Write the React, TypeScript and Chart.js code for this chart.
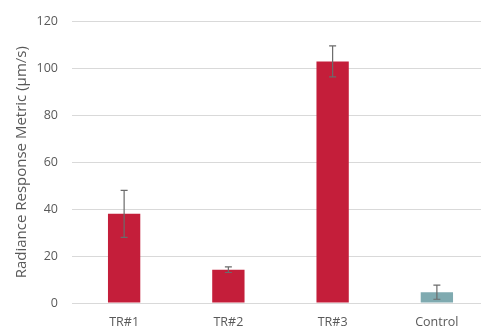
import React, { useEffect, useRef } from "react";
import { Chart, registerables } from "chart.js";

Chart.register(...registerables);

const categories = ["TR#1", "TR#2", "TR#3", "Control"];
const values = [38, 14.2, 103, 4.6];
const errors = [10, 1.2, 6.6, 3];
const barColors = ["#C41E3A", "#C41E3A", "#C41E3A", "#7FAAB0"];
const yTitle = "Radiance Response Metric (\u00B5m/s)";

const errorBarPlugin = {
  id: "errorBars",
  afterDatasetsDraw(chart: any) {
    const { ctx } = chart;
    const meta = chart.getDatasetMeta(0);
    const y = chart.scales.y;
    ctx.save();
    ctx.strokeStyle = "#6b6b6b";
    ctx.lineWidth = 1.2;
    meta.data.forEach((bar: any, i: number) => {
      const x = bar.x;
      const top = y.getPixelForValue(values[i] + errors[i]);
      const bot = y.getPixelForValue(values[i] - errors[i]);
      ctx.beginPath();
      ctx.moveTo(x, top);
      ctx.lineTo(x, bot);
      ctx.moveTo(x - 3.5, top);
      ctx.lineTo(x + 3.5, top);
      ctx.moveTo(x - 3.5, bot);
      ctx.lineTo(x + 3.5, bot);
      ctx.stroke();
    });
    ctx.restore();
  },
};

export default function App() {
  const ref = useRef<HTMLCanvasElement>(null);
  useEffect(() => {
    if (!ref.current) return;
    const chart = new Chart(ref.current, {
      type: "bar",
      data: {
        labels: categories,
        datasets: [
          {
            data: values,
            backgroundColor: barColors,
            borderWidth: 0,
            categoryPercentage: 1,
            barPercentage: 0.31,
          },
        ],
      },
      options: {
        animation: false,
        responsive: false,
        maintainAspectRatio: false,
        layout: { padding: { top: 18, left: 0, right: 1, bottom: 0 } },
        plugins: { legend: { display: false }, tooltip: { enabled: false } },
        scales: {
          x: {
            grid: { display: false },
            border: { display: false },
            ticks: {
              color: "#595959",
              font: { family: "Open Sans", size: 12.5 },
              padding: 4,
              maxRotation: 0,
            },
            afterFit: (s: any) => {
              s.height = 32;
            },
          },
          y: {
            min: 0,
            max: 120,
            grid: { color: "#d9d9d9", drawTicks: false, lineWidth: 1 },
            border: { display: false },
            ticks: {
              stepSize: 20,
              color: "#595959",
              font: { family: "Open Sans", size: 12.5 },
              padding: 14,
            },
            title: {
              display: true,
              text: yTitle,
              color: "#595959",
              font: { family: "Open Sans", size: 15, weight: "normal" },
              padding: { top: 13, bottom: 0 },
            },
            afterFit: (s: any) => {
              s.width = 72;
            },
          },
        },
      },
      plugins: [errorBarPlugin],
    });
    return () => chart.destroy();
  }, []);
  return (
    <div
      style={{
        position: "fixed",
        left: 0,
        top: 0,
        width: 481,
        height: 329,
        overflow: "hidden",
        background: "#fff",
      }}
    >
      <canvas ref={ref} width={490} height={335} style={{ display: "block" }} />
    </div>
  );
}
